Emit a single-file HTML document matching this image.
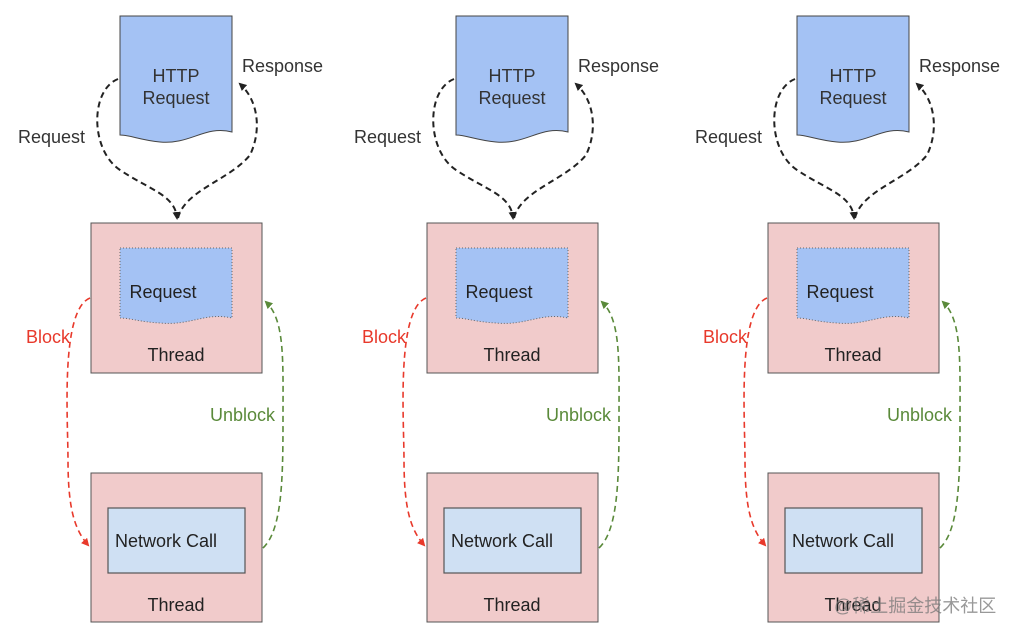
<!DOCTYPE html>
<html><head><style>
html,body{margin:0;padding:0;background:#fff;}
svg text{font-family:"Liberation Sans",Arial,sans-serif;font-size:18px;}
</style></head><body>
<svg width="1014" height="636" viewBox="0 0 1014 636" xmlns="http://www.w3.org/2000/svg">
<defs>
<marker id="ak" markerWidth="8" markerHeight="8" refX="6" refY="4" orient="auto" markerUnits="userSpaceOnUse"><path d="M0,0 L8,4 L0,8 z" fill="#222"/></marker>
<marker id="ar" markerWidth="8" markerHeight="8" refX="6" refY="4" orient="auto" markerUnits="userSpaceOnUse"><path d="M0,0 L8,4 L0,8 z" fill="#e8392b"/></marker>
<marker id="ag" markerWidth="8" markerHeight="8" refX="6" refY="4" orient="auto" markerUnits="userSpaceOnUse"><path d="M0,0 L8,4 L0,8 z" fill="#5a8a3a"/></marker>
<g id="p">
<path d="M120,16 H232 V132 C205,125 190,145 160,142 C140,140 130,135 120,135 Z" fill="#a4c2f4" stroke="#444" stroke-width="1"/>
<text x="176" y="82" text-anchor="middle" fill="#333">HTTP</text>
<text x="176" y="104" text-anchor="middle" fill="#333">Request</text>
<path d="M118,79 C90,90 90,150 120,170 C150,190 175,195 177,218" fill="none" stroke="#222" stroke-width="2" stroke-dasharray="6,4" marker-end="url(#ak)"/>
<path d="M178,218 C185,190 230,180 250,155 C262,130 258,100 240,84" fill="none" stroke="#222" stroke-width="2" stroke-dasharray="6,4" marker-end="url(#ak)"/>
<text x="18" y="143" fill="#333">Request</text>
<text x="242" y="72" fill="#333">Response</text>
<rect x="91" y="223" width="171" height="150" fill="#f1cbcb" stroke="#555" stroke-width="1"/>
<path d="M120,248 H232 V318 C205,312 190,326 160,323 C140,322 130,318 120,318 Z" fill="#a4c2f4" stroke="#666" stroke-width="1" stroke-dasharray="1,2"/>
<text x="163" y="298" text-anchor="middle" fill="#222">Request</text>
<text x="176" y="361" text-anchor="middle" fill="#222">Thread</text>
<rect x="91" y="473" width="171" height="149" fill="#f1cbcb" stroke="#555" stroke-width="1"/>
<rect x="108" y="508" width="137" height="65" fill="#cfe0f3" stroke="#555" stroke-width="1.2"/>
<text x="166" y="547" text-anchor="middle" fill="#222">Network Call</text>
<text x="176" y="611" text-anchor="middle" fill="#222">Thread</text>
<path d="M90,298 C60,310 68,420 68,460 C68,510 75,530 88,545" fill="none" stroke="#e8392b" stroke-width="1.6" stroke-dasharray="6,4" marker-end="url(#ar)"/>
<path d="M263,548 C282,530 283,480 283,420 C283,360 285,320 266,302" fill="none" stroke="#5a8a3a" stroke-width="1.6" stroke-dasharray="6,4" marker-end="url(#ag)"/>
<text x="26" y="343" fill="#e8392b">Block</text>
<text x="210" y="421" fill="#5a8a3a">Unblock</text>
</g>
</defs>
<use href="#p" x="0" y="0"/>
<use href="#p" x="336" y="0"/>
<use href="#p" x="677" y="0"/>
<text x="834" y="612" fill="#777" opacity="0.75" style="font-family:'Liberation Sans','Noto Sans CJK SC',sans-serif;font-size:18px;">@稀土掘金技术社区</text>
</svg>
</body></html>
